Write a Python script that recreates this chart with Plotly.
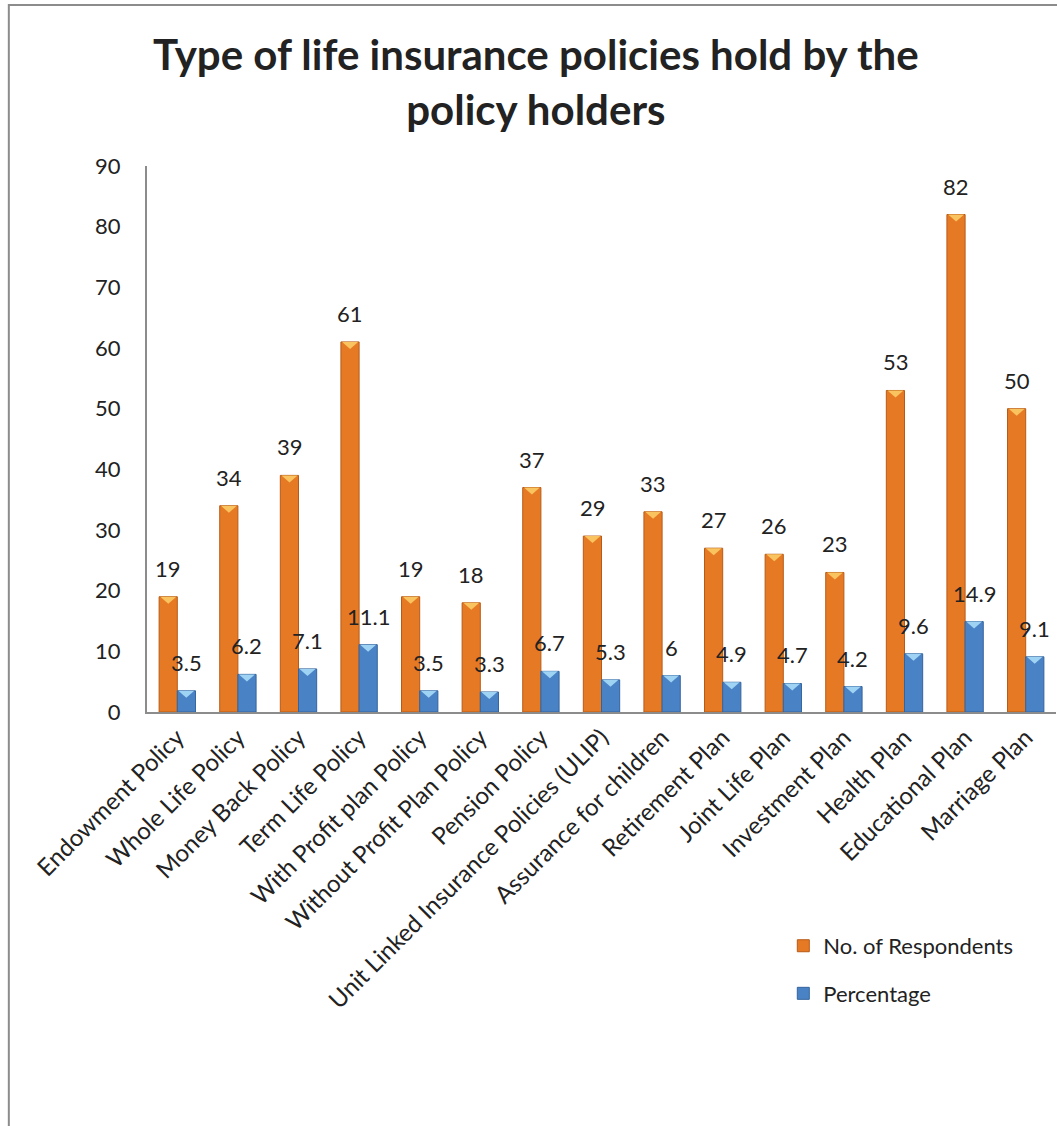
import plotly.graph_objects as go

categories = [
    "Endowment Policy", "Whole Life Policy", "Money Back Policy", "Term Life Policy",
    "With Profit plan Policy", "Without Profit Plan Policy", "Pension Policy",
    "Unit Linked Insurance Policies (ULIP)", "Assurance for children", "Retirement Plan",
    "Joint Life Plan", "Investment Plan", "Health Plan", "Educational Plan", "Marriage Plan",
]
respondents = [19, 34, 39, 61, 19, 18, 37, 29, 33, 27, 26, 23, 53, 82, 50]
percentage = [3.5, 6.2, 7.1, 11.1, 3.5, 3.3, 6.7, 5.3, 6, 4.9, 4.7, 4.2, 9.6, 14.9, 9.1]
y_ticks = [0, 10, 20, 30, 40, 50, 60, 70, 80, 90]

FONT = "Lato"
TEXT = "#222222"
ORANGE = "#E67A24"
BLUE = "#4A82C6"
BAR_PX = 18  # rendered width of a single bar in pixels

fig = go.Figure()
fig.add_trace(go.Bar(
    name="No. of Respondents", x=categories, y=respondents, legendgroup="resp",
    marker=dict(color=ORANGE, line=dict(color="#B85A17", width=1)),
))
fig.add_trace(go.Bar(
    name="Percentage", x=categories, y=percentage, legendgroup="pct",
    marker=dict(color=BLUE, line=dict(color="#34649E", width=1)),
))

annotations = []
shapes = []
series_info = (
    (respondents, -BAR_PX / 2, "#F9C35F"),
    (percentage, BAR_PX / 2, "#9FD3F3"),
)
for series, shift, tip in series_info:
    for i, (cat, v) in enumerate(zip(categories, series)):
        # value label above the bar
        annotations.append(dict(
            x=cat, y=v, xref="x", yref="y", text=f"{v:g}", showarrow=False,
            xshift=shift, yshift=13, yanchor="bottom", xanchor="center",
            font=dict(family=FONT, size=22, color=TEXT),
        ))
        # pyramid-style highlight on top of the bar
        half = BAR_PX / 2 - 1
        shapes.append(dict(
            type="path", xref="x", yref="y",
            xsizemode="pixel", ysizemode="pixel", xanchor=i, yanchor=v,
            path=f"M {shift - half},0 L {shift + half},0 L {shift},-7 Z",
            fillcolor=tip, line=dict(width=0), layer="above",
        ))

# chart title
annotations.append(dict(
    x=0.428, y=1.154, xref="paper", yref="paper", showarrow=False,
    text="<b>Type of life insurance policies hold by the<br>policy holders</b>",
    xanchor="center", yanchor="middle", align="center",
    font=dict(family=FONT, size=42, color=TEXT),
))

# outer chart frame
shapes.append(dict(
    type="rect", xref="paper", yref="paper",
    x0=-0.152, x1=1.01, y0=-0.8, y1=1.2949,
    line=dict(color="#8C8C8C", width=2), fillcolor="rgba(0,0,0,0)", layer="below",
))

fig.update_layout(
    width=1057, height=1126,
    margin=dict(l=147, r=1, t=166, b=414),
    paper_bgcolor="white", plot_bgcolor="white",
    barmode="group", bargap=0.4, bargroupgap=0,
    font=dict(family=FONT, size=22, color=TEXT),
    xaxis=dict(
        showline=True, linecolor="#8C8C8C", linewidth=2, ticks="",
        tickangle=-45, tickfont=dict(family=FONT, size=24, color=TEXT),
        showgrid=False,
    ),
    yaxis=dict(
        range=[0, 90], tickvals=y_ticks, showline=True, linecolor="#8C8C8C",
        linewidth=2, ticks="", showgrid=False, zeroline=False,
        tickfont=dict(family=FONT, size=22, color=TEXT), ticklabelstandoff=20,
    ),
    legend=dict(
        x=0.70, y=-0.39, xanchor="left", yanchor="top",
        font=dict(family=FONT, size=22, color=TEXT), itemwidth=30,
        tracegroupgap=16, bgcolor="rgba(0,0,0,0)",
    ),
    annotations=annotations,
    shapes=shapes,
    showlegend=True,
)

fig.write_html("out.html")
